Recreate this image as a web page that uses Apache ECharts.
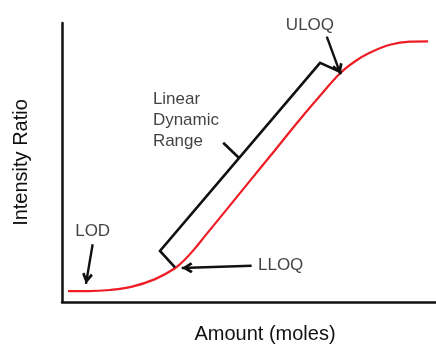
<!DOCTYPE html>
<html>
<head>
<meta charset="utf-8">
<script src="https://cdn.jsdelivr.net/npm/echarts@6/dist/echarts.min.js"></script>
<style>
  html, body { margin: 0; padding: 0; background: #fff; }
  #chart { width: 436px; height: 349px; }
</style>
</head>
<body>
<div id="chart"></div>
<script>
// Calibration response curve, arbitrary units on both axes (0–100)
const curveX = [1.6, 7.0, 12.8, 18.5, 24.9, 30.2, 33.0, 35.6, 38.2, 44.0, 50.3, 57.0, 63.6, 69.0, 74.3, 78.3, 82.4, 87.7, 93.0, 97.9];
const curveY = [3.9, 3.9, 4.3, 5.4, 8.2, 12.1, 15.4, 19.3, 23.6, 33.1, 43.5, 54.5, 65.4, 73.9, 81.9, 86.2, 89.4, 92.2, 93.3, 93.4];

// Bracket spanning the linear dynamic range (LLOQ end, corner, corner, ULOQ end)
const bracketX = [30.2, 26.2, 69.0, 74.8];
const bracketY = [12.4, 18.3, 85.7, 82.2];
// Small centre notch of the bracket
const notchX = [47.2, 43.1];
const notchY = [51.8, 57.1];

// Pointer arrows: start -> tip
const arrowFrom = [[8.2, 20.7], [50.7, 13.0], [70.8, 95.1]];
const arrowTo   = [[6.4, 6.5],  [32.0, 12.2], [74.5, 81.6]];

// Annotation labels and their anchor points
const labelText  = ['LOD', 'LLOQ', 'ULOQ', 'Linear\nDynamic\nRange'];
const labelPos   = [[8.2, 25.2], [52.4, 13.1], [66.3, 99.3], [24.3, 65.2]];
const labelPlace = ['inside', 'right', 'inside', 'right'];
const labelAlign = ['center', 'left', 'center', 'left'];

const FONT = "'Liberation Sans', Arial, Helvetica, sans-serif";
const INK = '#111111';
// Open chevron head; the empty first sub-path centres the shape on its tip
const CHEVRON = 'path://M5,-10 L5,-10 Z M5,0 L10,8 L8,9.6 L5,4.8 L2,9.6 L0,8 Z';

const zip = (xs, ys) => xs.map((x, i) => [x, ys[i]]);

const chart = echarts.init(document.getElementById('chart'), null, { renderer: 'canvas' });

chart.setOption({
  animation: false,
  backgroundColor: '#ffffff',
  grid: { left: 62, right: 0, top: 23, bottom: 44 },
  xAxis: {
    type: 'value', min: 0, max: 100,
    axisLine: { show: true, onZero: false, lineStyle: { color: INK, width: 2.5 } },
    axisTick: { show: false }, axisLabel: { show: false }, splitLine: { show: false },
    name: 'Amount (moles)', nameLocation: 'middle', nameGap: 22,
    nameTextStyle: { fontSize: 20, color: INK, fontFamily: FONT, padding: [0, 0, 0, 32] }
  },
  yAxis: {
    type: 'value', min: 0, max: 100,
    axisLine: { show: true, onZero: false, lineStyle: { color: INK, width: 2.5 } },
    axisTick: { show: false }, axisLabel: { show: false }, splitLine: { show: false },
    name: 'Intensity Ratio', nameLocation: 'middle', nameGap: 31,
    nameTextStyle: { fontSize: 20, color: INK, fontFamily: FONT }
  },
  series: [
    {
      name: 'response', type: 'line', smooth: 0.4,
      data: zip(curveX, curveY),
      showSymbol: false, silent: true,
      lineStyle: { color: '#ee1c24', width: 2.2 }
    },
    {
      name: 'bracket', type: 'line',
      data: zip(bracketX, bracketY),
      showSymbol: false, silent: true,
      lineStyle: { color: INK, width: 2.6, join: 'miter' }
    },
    {
      name: 'notch', type: 'line',
      data: zip(notchX, notchY),
      showSymbol: false, silent: true,
      lineStyle: { color: INK, width: 2.6 }
    },
    {
      name: 'arrows', type: 'line', data: [], silent: true,
      markLine: {
        silent: true,
        symbol: ['none', CHEVRON],
        symbolSize: [11, 22],
        label: { show: false },
        lineStyle: { color: INK, width: 2.4, type: 'solid' },
        emphasis: { disabled: true },
        data: arrowFrom.map((p, i) => [{ coord: p }, { coord: arrowTo[i] }])
      }
    },
    {
      name: 'labels', type: 'scatter', symbolSize: 0, silent: true,
      data: labelPos.map((p, i) => ({
        value: p,
        name: labelText[i],
        label: { position: labelPlace[i], align: labelAlign[i] }
      })),
      label: {
        show: true, formatter: '{b}', distance: 0,
        color: INK, fontSize: 17, fontFamily: FONT, lineHeight: 21
      }
    }
  ]
});
</script>
</body>
</html>
